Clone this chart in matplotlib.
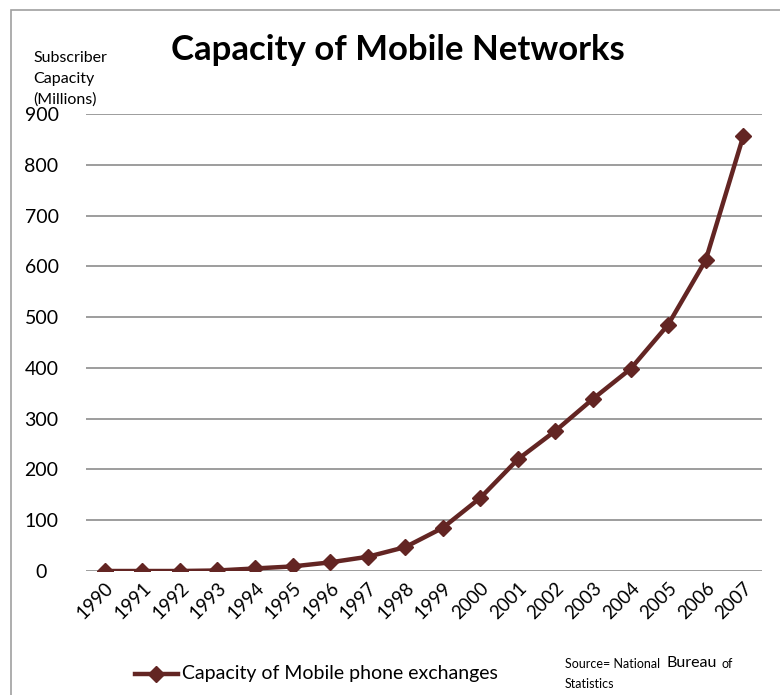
import matplotlib.pyplot as plt
from matplotlib.patches import Rectangle
from matplotlib.lines import Line2D

plt.rcParams['font.family'] = ['Lato', 'DejaVu Sans']

years = ['1990', '1991', '1992', '1993', '1994', '1995', '1996', '1997', '1998',
         '1999', '2000', '2001', '2002', '2003', '2004', '2005', '2006', '2007']
capacity = [0, 0, 0, 1, 5, 9, 17, 28, 47, 85, 144, 220, 276, 339, 398, 485, 612, 856]
y_ticks = [0, 100, 200, 300, 400, 500, 600, 700, 800, 900]

line_color = '#632523'
grid_color = '#8c8c8c'

fig = plt.figure(figsize=(7.8, 6.95), dpi=100)

# outer chart border (runs off the right and bottom)
fig.patches.append(Rectangle((11 / 780, -0.1), 1.0, 1.1 - 10 / 695, transform=fig.transFigure,
                             fill=False, edgecolor='#a0a0a0', linewidth=1.2))

ax = fig.add_axes([86 / 780, 1 - 571 / 695, (762 - 86) / 780, (571 - 114) / 695])
x = list(range(len(years)))
ax.plot(x, capacity, color=line_color, linewidth=3.2, marker='D', markersize=8.5,
        markerfacecolor=line_color, markeredgecolor=line_color, zorder=3)

ax.set_xlim(-0.5, len(years) - 0.5)
ax.set_ylim(0, 900)
ax.set_yticks(y_ticks)
ax.set_xticks(x)
ax.set_xticklabels(years, rotation=45, ha='right', rotation_mode='anchor', fontsize=13.5)
ax.tick_params(axis='y', labelsize=14, length=0)
ax.tick_params(axis='x', length=0, pad=6)
for lab in ax.get_yticklabels():
    lab.set_horizontalalignment('center')
ax.yaxis.set_tick_params(pad=32)
ax.grid(axis='y', color=grid_color, linewidth=1.2)
ax.set_axisbelow(True)
for s in ax.spines.values():
    s.set_visible(False)

fig.text(398 / 780, 1 - 50 / 695, 'Capacity of Mobile Networks', ha='center', va='center',
         fontsize=25, fontweight='bold')
fig.text(33 / 780, 1 - 51 / 695, 'Subscriber\nCapacity\n(Millions)', ha='left', va='top',
         fontsize=11.5, linespacing=1.6)

# legend entry
fig.lines.append(Line2D([135 / 780, 178 / 780], [1 - 674 / 695, 1 - 674 / 695], transform=fig.transFigure,
                        color=line_color, linewidth=3.2))
fig.lines.append(Line2D([156 / 780], [1 - 674 / 695], transform=fig.transFigure, marker='D',
                        markersize=8.5, color=line_color))
fig.text(182 / 780, 1 - 674 / 695, 'Capacity of Mobile phone exchanges', ha='left', va='center',
         fontsize=14)

fig.text(565 / 780, 1 - 664 / 695, 'Source= National', ha='left', va='center', fontsize=9)
fig.text(667 / 780, 1 - 663 / 695, 'Bureau', ha='left', va='center', fontsize=11.5)
fig.text(722 / 780, 1 - 664 / 695, 'of', ha='left', va='center', fontsize=9)
fig.text(565 / 780, 1 - 684 / 695, 'Statistics', ha='left', va='center', fontsize=9)

fig.savefig('out.png', dpi=100)
